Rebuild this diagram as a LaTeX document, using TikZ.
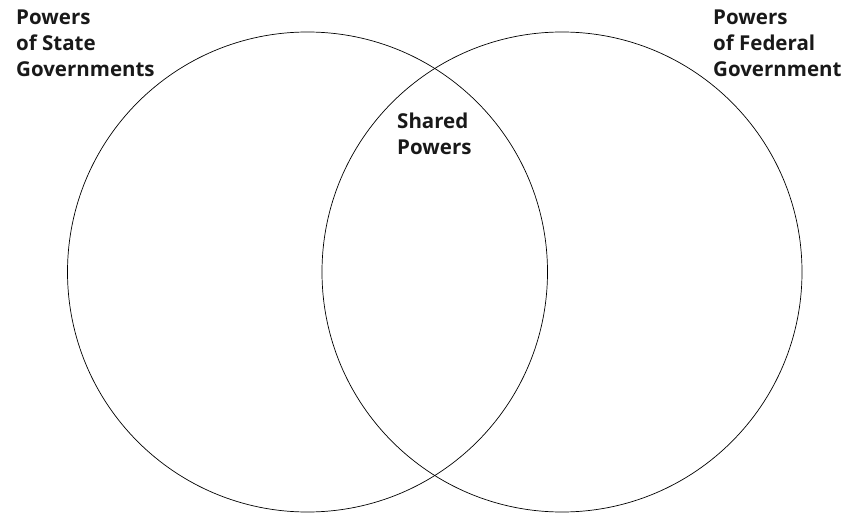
\documentclass[tikz,border=0pt]{standalone}
\usepackage{fontspec}
\setmainfont{Open Sans}
\tikzset{
  venn/.style={draw=black,line width=0.7pt},
  lbl/.style={font=\fontsize{20.5}{26}\selectfont\bfseries,align=left,inner sep=0pt,anchor=north west,text=black!90}
}
\begin{document}
\begin{tikzpicture}[x=1pt,y=-1pt]
\useasboundingbox (0,0) rectangle (846,513);
\node[venn,circle,minimum size=480pt,inner sep=0pt] (L) at (307.5,272) {};
\node[venn,circle,minimum size=480pt,inner sep=0pt] (R) at (562,272) {};
\node[lbl] (state) at (16,10) {Powers\\of State\\Governments};
\node[lbl] (fed) at (713,10) {Powers\\of Federal\\Government};
\node[lbl] (shared) at (397,113) {Shared\\Powers};
\end{tikzpicture}
\end{document}
